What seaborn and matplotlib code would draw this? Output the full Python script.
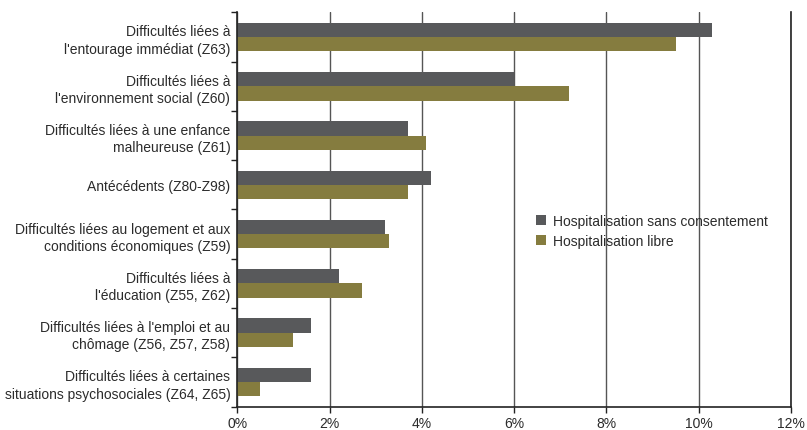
import numpy as np
import pandas as pd
import matplotlib
matplotlib.use("Agg")
import matplotlib.pyplot as plt
import seaborn as sns

# data
categories = [
    "Difficultés liées à\nl'entourage immédiat (Z63)",
    "Difficultés liées à\nl'environnement social (Z60)",
    "Difficultés liées à une enfance\nmalheureuse (Z61)",
    "Antécédents (Z80-Z98)",
    "Difficultés liées au logement et aux\nconditions économiques (Z59)",
    "Difficultés liées à\nl'éducation (Z55, Z62)",
    "Difficultés liées à l'emploi et au\nchômage (Z56, Z57, Z58)",
    "Difficultés liées à certaines\nsituations psychosociales (Z64, Z65)",
]
series_names = ["Hospitalisation sans consentement", "Hospitalisation libre"]
sans_consentement = [10.3, 6.0, 3.7, 4.2, 3.2, 2.2, 1.6, 1.6]
libre = [9.5, 7.2, 4.1, 3.7, 3.3, 2.7, 1.2, 0.5]
xticks = [0, 2, 4, 6, 8, 10, 12]

df = pd.DataFrame({
    "categorie": categories * 2,
    "serie": [series_names[0]] * len(categories) + [series_names[1]] * len(categories),
    "valeur": sans_consentement + libre,
})

sns.set_style("white")
plt.rcParams["font.family"] = ["Liberation Sans", "DejaVu Sans"]
txt = "#2b2b2b"

fig, ax = plt.subplots(figsize=(8.07, 4.31), dpi=100)
fig.subplots_adjust(left=0.294, right=0.980, top=0.969, bottom=0.0545)

sns.barplot(data=df, x="valeur", y="categorie", hue="serie", orient="h",
            palette=["#58595b", "#857c3f"], width=0.58, saturation=1,
            linewidth=0, order=categories, hue_order=series_names, ax=ax)

ax.set_xlim(0, 12)
ax.set_ylim(len(categories) - 0.5, -0.5)
ax.set_xticks(xticks)
ax.set_xticklabels([f"{t}%" for t in xticks], fontsize=10, color=txt)
ax.tick_params(axis="x", direction="out", length=4, width=1, color="#222222", bottom=True, pad=3)

ax.set_yticks(range(len(categories)))
ax.set_yticklabels(categories, fontsize=10, color=txt, linespacing=1.3)
ax.tick_params(axis="y", which="major", length=0, pad=5)
ax.set_yticks(np.arange(-0.5, len(categories)), minor=True)
ax.tick_params(axis="y", which="minor", direction="out", length=4, width=1, color="#222222", left=True)

ax.xaxis.grid(True, color="#555555", linewidth=1)
ax.set_axisbelow(True)
for s in ["left", "bottom", "right"]:
    ax.spines[s].set_visible(True)
    ax.spines[s].set_color("#222222")
    ax.spines[s].set_linewidth(1.2)
ax.spines["top"].set_visible(False)

ax.set_xlabel("")
ax.set_ylabel("")
ax.legend(loc="center left", bbox_to_anchor=(0.54, 0.445), frameon=False,
          fontsize=10, borderpad=0, borderaxespad=0,
          handlelength=0.72, handleheight=0.72, handletextpad=0.48,
          labelspacing=0.45, labelcolor=txt)

fig.savefig("out.png", dpi=100)
